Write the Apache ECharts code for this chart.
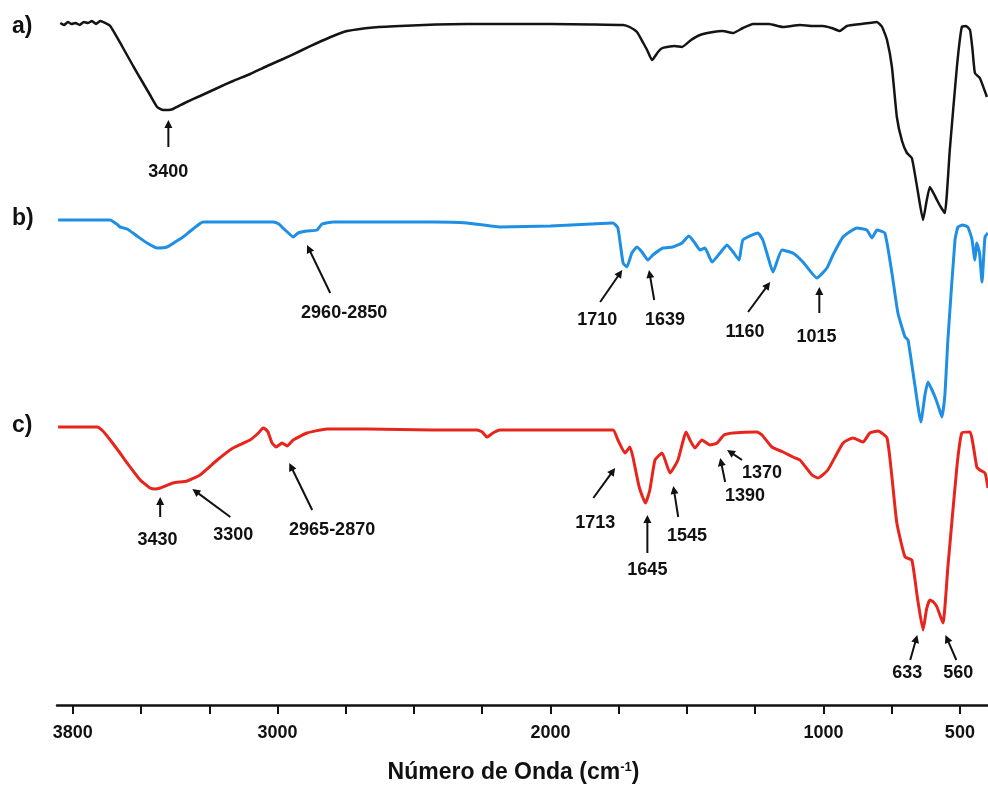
<!DOCTYPE html>
<html>
<head>
<meta charset="utf-8">
<script src="https://cdn.jsdelivr.net/npm/echarts@6/dist/echarts.min.js"></script>
<style>
html,body{margin:0;padding:0;background:#fff}
#chart{width:988px;height:794px}
</style>
</head>
<body>
<div id="chart"></div>
<script>
// FTIR spectra: [wavenumber (cm-1), transmittance (%)]
const spectrumA = [
  [3796,101],[3782,100],[3768,101.5],[3755,100.5],[3740,101],[3725,100],[3710,101.5],[3695,101],[3680,102],[3665,100.5],
  [3650,102],[3639,101.5],[3613,99.5],[3570,89.5],[3529,79.5],[3497,72],[3467,65],[3441,59],[3419,57.5],[3400,57.5],
  [3383,58],[3340,61],[3284,64.5],[3220,68.5],[3163,72],[3100,75.5],[3038,79.5],[2980,83],[2917,87],[2855,91],
  [2796,94.5],[2745,97],[2650,98.8],[2551,99.5],[2420,100.2],[2306,100.5],[2185,100.5],[2000,100.5],[1850,100.3],[1734,100],
  [1710,99],[1683,96.5],[1660,91],[1646,87.5],[1628,82.5],[1606,86.5],[1590,88.5],[1573,89],[1545,89.5],[1518,89],
  [1485,92.5],[1452,95],[1404,96.5],[1370,97],[1331,96],[1295,98.5],[1258,100.5],[1200,100.5],[1148,99],[1086,100],
  [1040,99.5],[1002,99.5],[970,98.5],[940,97],[914,99.5],[860,100.5],[804,101.5],[785,99],[767,92.5],[749,79],
  [731,54],[712,42],[694,36],[676,33.5],[655,17.5],[635,2.5],[622,12],[610,19],[597,16],[584,12.5],
  [570,9],[555,6],[537,37.5],[511,79],[493,99],[478,99.5],[463,97.5],[454,88],[445,76],[427,73.5],[401,64]
];
const spectrumB = [
  [3804,102.5],[3700,102.5],[3613,102.5],[3600,101.5],[3595,101],[3585,100],[3577,99],[3551,98],[3515,94.5],[3478,91],
  [3441,88.5],[3405,89],[3375,91.5],[3346,94],[3310,98],[3273,101.5],[3163,101.5],[3016,101.5],[2995,100.5],[2980,98.5],
  [2960,96],[2943,94],[2925,96],[2892,97],[2855,97.5],[2837,100.5],[2796,101.5],[2551,101.5],[2430,101.5],[2306,101],
  [2185,99],[2000,99.5],[1850,100.5],[1771,101],[1753,98.5],[1734,81],[1720,79],[1702,86],[1683,89],[1665,86.5],
  [1643,82.5],[1625,85],[1588,88.5],[1552,89],[1518,91],[1493,94.5],[1471,91],[1452,87.5],[1434,88.5],[1408,81.5],
  [1379,86],[1353,90],[1331,86.5],[1309,82.5],[1295,92.5],[1240,96],[1222,92.5],[1203,84],[1185,76.5],[1152,87.5],
  [1112,86],[1075,81.5],[1024,73.5],[987,78.5],[965,85],[928,94],[877,98.5],[841,97.5],[822,93.5],[804,97.5],
  [775,96],[749,76],[727,56],[701,44],[690,42.5],[665,20],[643,1.5],[628,15],[617,21.5],[604,18],
  [591,14],[578,9],[566,4],[555,15],[544,42.5],[518,92.5],[507,99],[490,100],[471,99],[456,93],
  [445,82.5],[438,91],[428,86],[419,71.5],[408,94],[397,96]
];
const spectrumC = [
  [3804,104],[3730,104],[3661,104],[3640,102],[3613,97.5],[3580,91.5],[3551,86],[3503,77.5],[3467,73.5],[3448,73],
  [3430,73.5],[3383,76],[3331,77],[3284,80],[3221,87.5],[3163,93.5],[3101,97.5],[3070,101],[3053,103.5],[3045,103],
  [3035,101.5],[3020,96],[3005,94],[2983,96],[2965,94.5],[2943,97.5],[2892,101],[2819,103],[2672,103],[2430,102.5],
  [2269,102.5],[2250,101.5],[2233,99],[2211,101],[2185,102.5],[1771,102.5],[1753,97.5],[1727,91],[1709,94],[1698,89],
  [1675,74],[1652,66],[1636,72.5],[1617,87.5],[1591,91],[1562,81],[1533,87.5],[1503,101.5],[1489,97.5],[1471,93.5],
  [1445,97.5],[1416,95],[1390,96],[1364,100],[1331,101],[1244,101.5],[1225,100],[1189,94],[1148,91.5],[1112,89],
  [1086,87.5],[1042,80],[1020,78.5],[984,82.5],[928,96],[892,98.5],[855,96.5],[830,101],[800,102],[767,98.5],
  [749,79],[731,56],[701,39],[676,37.5],[655,18],[635,2.5],[622,13],[610,17.5],[597,16.5],[584,14],
  [562,6],[544,34],[511,84],[493,101],[463,101.5],[438,84],[427,82.5],[408,81],[397,73.5]
];

// Peak annotations: [text, tip wavenumber, tip %T, tail wavenumber, tail %T, label wavenumber, label %T]
const notesA = [
  ['3400', 3400, 52.5, 3400, 39, 3400, 26.5]
];
const notesB = [
  ['2960-2850', 2892, 90, 2807, 66, 2756, 56],
  ['1710', 1737, 77.5, 1818, 61.5, 1829, 52.5],
  ['1639', 1639, 77.5, 1620, 62.5, 1580, 52.5],
  ['1160', 1195, 71.5, 1276, 56.5, 1287, 46.5],
  ['1015', 1015, 69, 1015, 56, 1025, 44]
];
const notesC = [
  ['3430', 3430, 69, 3430, 59, 3440, 47.5],
  ['3300', 3312, 73, 3173, 59, 3162, 50],
  ['2965-2870', 2957, 86, 2873, 62.5, 2800, 52.5],
  ['1713', 1763, 83.5, 1843, 68.5, 1836, 56],
  ['1645', 1645, 60, 1645, 41, 1645, 32.5],
  ['1545', 1550, 74.5, 1532, 59, 1500, 49.5],
  ['1390', 1378, 88.5, 1360, 76.5, 1287, 69.5],
  ['1370', 1353, 92.5, 1298, 87.5, 1225, 81],
  ['633', 656, 0, 682, -12.5, 693, -19],
  ['560', 553, 0, 513, -12.5, 506, -19]
];

// Axis ticks and labels
const tickValues = [3750, 3500, 3250, 3000, 2750, 2500, 2250, 2000, 1750, 1500, 1250, 1000, 750, 500];
const labelValues = [3750, 3000, 2000, 1000, 500];
const labelTexts = ['3800', '3000', '2000', '1000', '500'];

// Vertical stacking of the three spectra
const offsets = { a: 240, b: 140, c: 35 };
const colors = { a: '#141414', b: '#1e8fe4', c: '#e6261c' };

const FONT = 'Arial, "Liberation Sans", Helvetica, sans-serif';

function shifted(spec, off) {
  return spec.map(p => [p[0], p[1] + off]);
}

function noteData(notes, off) {
  return notes.map(n => [n[1], n[2] + off, n[3], n[4] + off, n[5], n[6] + off]);
}

function noteRenderer(notes) {
  return function (params, api) {
    const tip = api.coord([api.value(0), api.value(1)]);
    const tail = api.coord([api.value(2), api.value(3)]);
    const lab = api.coord([api.value(4), api.value(5)]);
    const dx = tip[0] - tail[0], dy = tip[1] - tail[1];
    const len = Math.hypot(dx, dy) || 1;
    const ux = dx / len, uy = dy / len;
    const hl = 8, hw = 4;
    const bx = tip[0] - ux * hl, by = tip[1] - uy * hl;
    return {
      type: 'group',
      children: [
        { type: 'line', shape: { x1: tail[0], y1: tail[1], x2: bx + ux, y2: by + uy },
          style: { stroke: '#111', lineWidth: 2 } },
        { type: 'polygon', shape: { points: [[tip[0], tip[1]], [bx - uy * hw, by + ux * hw], [bx + uy * hw, by - ux * hw]] },
          style: { fill: '#111' } },
        { type: 'text', x: lab[0], y: lab[1],
          style: { text: notes[params.dataIndex][0], align: 'center', verticalAlign: 'middle',
                   fontFamily: FONT, fontWeight: 'bold', fontSize: 18, fill: '#111' } }
      ]
    };
  };
}

function lineSeries(name, spec, off, color, width) {
  return {
    name: name, type: 'line', data: shifted(spec, off), showSymbol: false, smooth: 0.15,
    lineStyle: { color: color, width: width }, itemStyle: { color: color },
    animation: false, z: 2
  };
}

function noteSeries(notes, off) {
  return {
    type: 'custom', data: noteData(notes, off), renderItem: noteRenderer(notes),
    encode: { x: 0, y: 1 }, clip: false, animation: false, z: 5, silent: true
  };
}

const chart = echarts.init(document.getElementById('chart'), null, { renderer: 'canvas' });

chart.setOption({
  backgroundColor: '#ffffff',
  animation: false,
  grid: { left: 57, right: 0, top: 5, bottom: 89, containLabel: false },
  xAxis: {
    type: 'value', min: 397, max: 3808, inverse: true,
    axisLine: { show: true, lineStyle: { color: '#111', width: 2.5 } },
    axisTick: { show: true, customValues: tickValues, length: 9, lineStyle: { color: '#111', width: 2 } },
    axisLabel: {
      customValues: labelValues, margin: 19, color: '#111',
      fontFamily: FONT, fontWeight: 'bold', fontSize: 18,
      formatter: v => labelTexts[labelValues.indexOf(v)] ?? ''
    },
    splitLine: { show: false },
    name: '{t|Número de Onda (cm}{s|-1}{t|)}',
    nameLocation: 'middle', nameGap: 56,
    nameTextStyle: {
      padding: [0, 18, 0, 0],
      rich: {
        t: { fontFamily: FONT, fontWeight: 'bold', fontSize: 23, color: '#111' },
        s: { fontFamily: FONT, fontWeight: 'bold', fontSize: 13, color: '#111', padding: [0, 0, 10, 0] }
      }
    }
  },
  yAxis: { type: 'value', min: 0, max: 350, show: false },
  graphic: [
    { type: 'text', left: 12, top: 15, style: { text: 'a)', fontFamily: FONT, fontWeight: 'bold', fontSize: 23, fill: '#111' } },
    { type: 'text', left: 12, top: 207, style: { text: 'b)', fontFamily: FONT, fontWeight: 'bold', fontSize: 23, fill: '#111' } },
    { type: 'text', left: 12, top: 414, style: { text: 'c)', fontFamily: FONT, fontWeight: 'bold', fontSize: 23, fill: '#111' } }
  ],
  series: [
    lineSeries('a', spectrumA, offsets.a, colors.a, 2.5),
    lineSeries('b', spectrumB, offsets.b, colors.b, 3),
    lineSeries('c', spectrumC, offsets.c, colors.c, 3),
    noteSeries(notesA, offsets.a),
    noteSeries(notesB, offsets.b),
    noteSeries(notesC, offsets.c)
  ]
});
</script>
</body>
</html>
